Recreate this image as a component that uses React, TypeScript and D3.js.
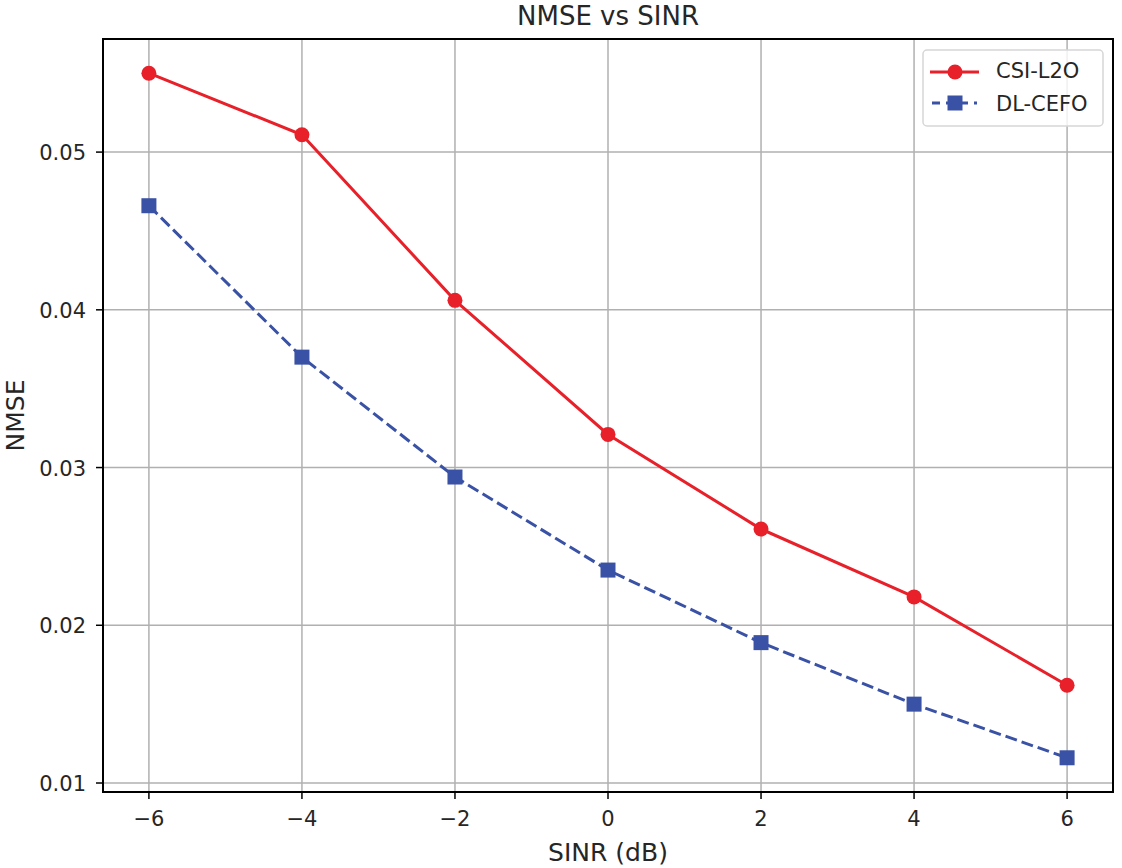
import { useEffect, useRef } from 'react'
import * as d3 from 'd3'

const sinr = [-6, -4, -2, 0, 2, 4, 6]
const csiL2O = [0.0550, 0.0511, 0.0406, 0.0321, 0.0261, 0.0218, 0.0162]
const dlCefo = [0.0466, 0.0370, 0.0294, 0.0235, 0.0189, 0.0150, 0.0116]
const xTicks = [-6, -4, -2, 0, 2, 4, 6]
const yTicks = [0.01, 0.02, 0.03, 0.04, 0.05]

const W = 1122
const H = 868
const FONT = 'DejaVu Sans, sans-serif'

export default function App() {
  const svgRef = useRef<SVGSVGElement>(null)

  useEffect(() => {
    if (!svgRef.current) return
    const svg = d3.select(svgRef.current)
    svg.selectAll('*').remove()

    const margin = { top: 39, right: 9, bottom: 76, left: 103 }
    const x = d3.scaleLinear().domain([-6.6, 6.6]).range([margin.left, W - margin.right])
    const y = d3.scaleLinear().domain([0.00943, 0.05717]).range([H - margin.bottom, margin.top])

    const red = '#e8202a'
    const blue = '#3a52a5'
    const ink = '#262626'

    svg.append('rect').attr('width', W).attr('height', H).attr('fill', '#fff')

    // Grid
    xTicks.forEach(t => {
      svg.append('line')
        .attr('x1', x(t)).attr('x2', x(t))
        .attr('y1', margin.top).attr('y2', H - margin.bottom)
        .style('stroke', '#b0b0b0').style('stroke-width', '1.5px')
    })
    yTicks.forEach(t => {
      svg.append('line')
        .attr('x1', margin.left).attr('x2', W - margin.right)
        .attr('y1', y(t)).attr('y2', y(t))
        .style('stroke', '#b0b0b0').style('stroke-width', '1.5px')
    })

    // Lines
    const line = d3.line<number>()
      .x((_, i) => x(sinr[i]))
      .y(d => y(d))

    svg.append('path')
      .attr('d', line(csiL2O))
      .style('fill', 'none').style('stroke', red).style('stroke-width', '3px')

    svg.append('path')
      .attr('d', line(dlCefo))
      .style('fill', 'none').style('stroke', blue).style('stroke-width', '3px')
      .style('stroke-dasharray', '12,5')

    svg.selectAll('circle.csi')
      .data(csiL2O)
      .enter()
      .append('circle')
      .attr('class', 'csi')
      .attr('cx', (_, i) => x(sinr[i]))
      .attr('cy', d => y(d))
      .attr('r', 7.5)
      .style('fill', red)

    svg.selectAll('rect.dl')
      .data(dlCefo)
      .enter()
      .append('rect')
      .attr('class', 'dl')
      .attr('x', (_, i) => x(sinr[i]) - 7.5)
      .attr('y', d => y(d) - 7.5)
      .attr('width', 15)
      .attr('height', 15)
      .style('fill', blue)

    // Frame
    svg.append('rect')
      .attr('x', margin.left).attr('y', margin.top)
      .attr('width', W - margin.left - margin.right)
      .attr('height', H - margin.top - margin.bottom)
      .style('fill', 'none').style('stroke', '#000').style('stroke-width', '2px')

    // Ticks
    xTicks.forEach(t => {
      svg.append('line')
        .attr('x1', x(t)).attr('x2', x(t))
        .attr('y1', H - margin.bottom).attr('y2', H - margin.bottom + 7)
        .style('stroke', '#000').style('stroke-width', '1.5px')
      svg.append('text')
        .attr('x', x(t)).attr('y', H - margin.bottom + 34)
        .attr('text-anchor', 'middle')
        .style('fill', ink).style('font-size', '21px').style('font-family', FONT)
        .text(t < 0 ? `\u2212${Math.abs(t)}` : `${t}`)
    })
    yTicks.forEach(t => {
      svg.append('line')
        .attr('x1', margin.left - 7).attr('x2', margin.left)
        .attr('y1', y(t)).attr('y2', y(t))
        .style('stroke', '#000').style('stroke-width', '1.5px')
      svg.append('text')
        .attr('x', margin.left - 17).attr('y', y(t) + 8)
        .attr('text-anchor', 'end')
        .style('fill', ink).style('font-size', '21px').style('font-family', FONT)
        .text(t.toFixed(2))
    })

    // Axis labels & title
    svg.append('text')
      .attr('x', (margin.left + W - margin.right) / 2).attr('y', 861)
      .attr('text-anchor', 'middle')
      .style('fill', ink).style('font-size', '25px').style('font-family', FONT)
      .text('SINR (dB)')

    svg.append('text')
      .attr('transform', `translate(24,${(margin.top + H - margin.bottom) / 2}) rotate(-90)`)
      .attr('text-anchor', 'middle')
      .style('fill', ink).style('font-size', '25px').style('font-family', FONT)
      .text('NMSE')

    svg.append('text')
      .attr('x', (margin.left + W - margin.right) / 2).attr('y', 25)
      .attr('text-anchor', 'middle')
      .style('fill', ink).style('font-size', '26px').style('font-family', FONT)
      .text('NMSE vs SINR')

    // Legend
    const lg = svg.append('g').attr('transform', 'translate(923,50)')
    lg.append('rect')
      .attr('width', 180).attr('height', 76).attr('rx', 4)
      .style('fill', 'rgba(255,255,255,0.8)').style('stroke', '#d6d6d6').style('stroke-width', '1.5px')

    lg.append('line').attr('x1', 7).attr('x2', 56).attr('y1', 22).attr('y2', 22)
      .style('stroke', red).style('stroke-width', '3px')
    lg.append('circle').attr('cx', 32).attr('cy', 22).attr('r', 7.5).style('fill', red)
    lg.append('text').attr('x', 73).attr('y', 28)
      .style('fill', ink).style('font-size', '21px').style('font-family', FONT)
      .text('CSI-L2O')

    lg.append('line').attr('x1', 9).attr('x2', 54).attr('y1', 53).attr('y2', 53)
      .style('stroke', blue).style('stroke-width', '3px').style('stroke-dasharray', '8,6')
    lg.append('rect').attr('x', 24.5).attr('y', 45.5).attr('width', 15).attr('height', 15).style('fill', blue)
    lg.append('text').attr('x', 73).attr('y', 61)
      .style('fill', ink).style('font-size', '21px').style('font-family', FONT)
      .text('DL-CEFO')
  }, [])

  return (
    <svg
      ref={svgRef}
      width={W}
      height={H}
      style={{ position: 'absolute', left: 0, top: 0, display: 'block' }}
    />
  )
}
